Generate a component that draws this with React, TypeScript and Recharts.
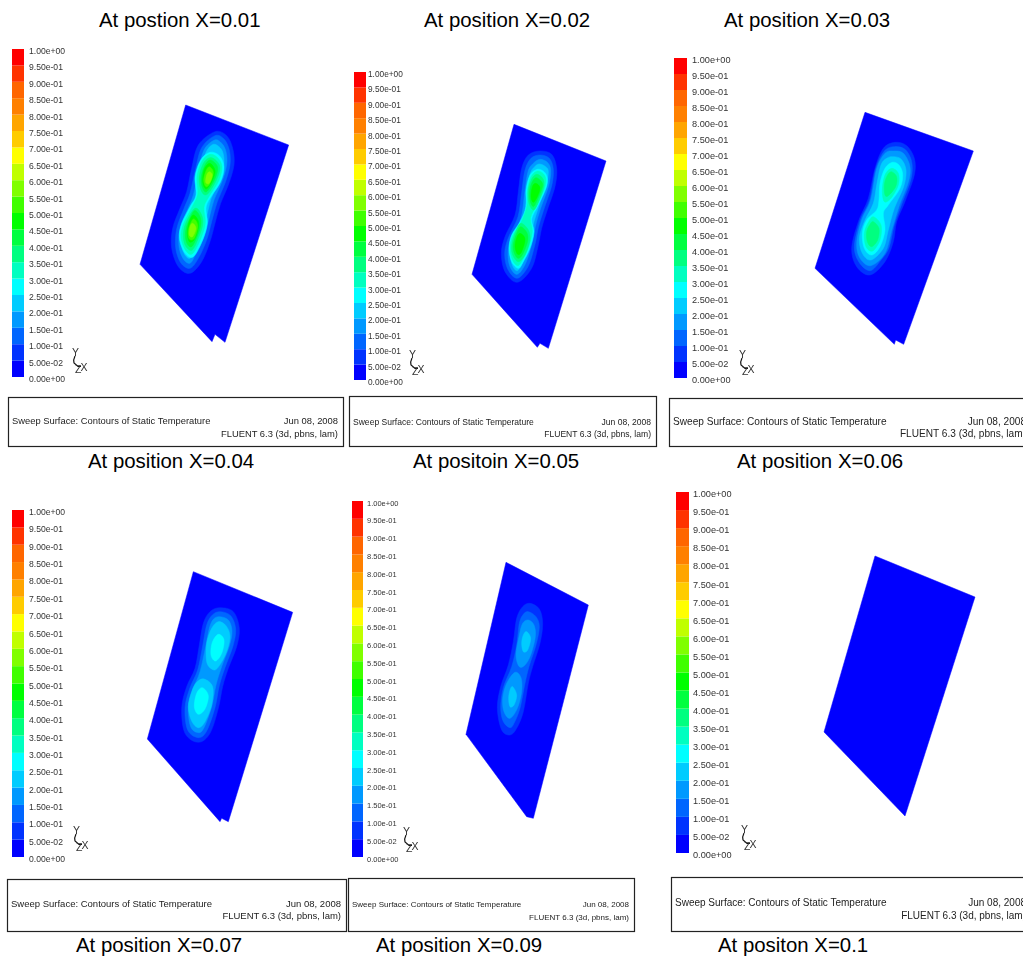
import * as React from 'react';
import { BarChart, Bar, ScatterChart, Scatter, XAxis, YAxis } from 'recharts';

type Pt = [number, number];
interface Ring { band: number; pts: Pt[] }

// legend, bottom band first
const bandColors = [
  '#0000ff', '#0033ff', '#0066ff', '#0099ff', '#00ccff', '#00ffff', '#00ffc0', '#00ff80', '#00ff40', '#00ff00',
  '#40ff00', '#80ff00', '#c0ff00', '#ffff00', '#ffcc00', '#ffa500', '#ff8000', '#ff6600', '#ff3300', '#ff0000',
];
const levelValues = [0, 0.05, 0.1, 0.15, 0.2, 0.25, 0.3, 0.35, 0.4, 0.45, 0.5, 0.55, 0.6, 0.65, 0.7, 0.75, 0.8, 0.85, 0.9, 0.95, 1];
const levelLabels = [
  '0.00e+00', '5.00e-02', '1.00e-01', '1.50e-01', '2.00e-01', '2.50e-01', '3.00e-01', '3.50e-01', '4.00e-01', '4.50e-01', '5.00e-01',
  '5.50e-01', '6.00e-01', '6.50e-01', '7.00e-01', '7.50e-01', '8.00e-01', '8.50e-01', '9.00e-01', '9.50e-01', '1.00e+00',
];

const outline1: Pt[] = [[167, 30], [476, 150], [285, 742], [255, 718], [246, 740], [30, 508]];
const rings1: Ring[] = [
  { band: 1, pts: [[255, 110], [290, 122], [308, 160], [312, 210], [295, 270], [272, 325], [255, 385], [240, 440], [215, 500], [180, 535], [145, 515], [125, 460], [128, 400], [150, 340], [170, 290], [185, 220], [205, 150]] },
  { band: 2, pts: [[255, 122], [282, 132], [298, 165], [300, 210], [285, 265], [262, 320], [245, 380], [230, 435], [205, 490], [180, 520], [152, 503], [137, 458], [140, 402], [160, 345], [180, 295], [196, 225], [215, 158]] },
  { band: 3, pts: [[254, 135], [275, 145], [288, 170], [290, 210], [275, 262], [252, 315], [236, 375], [220, 430], [197, 478], [180, 505], [160, 492], [147, 455], [150, 405], [170, 350], [190, 300], [205, 230], [222, 165]] },
  { band: 4, pts: [[250, 148], [270, 158], [280, 178], [281, 212], [266, 260], [243, 312], [228, 372], [212, 425], [192, 468], [180, 490], [165, 480], [155, 450], [158, 408], [178, 355], [198, 305], [212, 232], [228, 172]] },
  { band: 5, pts: [[240, 172], [268, 182], [282, 215], [272, 260], [240, 310], [228, 340], [232, 385], [218, 435], [190, 485], [165, 475], [148, 430], [155, 385], [180, 335], [198, 300], [195, 245], [212, 195]] },
  { band: 6, pts: [[240, 178], [263, 188], [276, 215], [266, 258], [235, 308], [222, 338], [226, 385], [212, 432], [188, 476], [168, 468], [153, 428], [160, 388], [184, 340], [203, 298], [201, 245], [216, 198]] },
  { band: 7, pts: [[240, 188], [260, 198], [270, 220], [258, 258], [232, 298], [215, 290], [207, 250], [220, 205]] },
  { band: 7, pts: [[195, 340], [215, 360], [218, 390], [205, 430], [187, 465], [168, 455], [160, 425], [167, 385]] },
  { band: 8, pts: [[240, 195], [258, 207], [263, 225], [252, 258], [230, 290], [218, 280], [213, 250], [224, 212]] },
  { band: 8, pts: [[193, 347], [210, 365], [212, 392], [200, 428], [185, 455], [172, 447], [166, 422], [172, 388]] },
  { band: 9, pts: [[238, 205], [252, 218], [255, 235], [243, 265], [228, 282], [218, 262], [222, 225]] },
  { band: 9, pts: [[190, 360], [205, 378], [204, 405], [192, 435], [178, 440], [172, 415], [177, 382]] },
  { band: 10, pts: [[238, 215], [250, 232], [240, 265], [228, 275], [221, 255], [228, 228]] },
  { band: 10, pts: [[190, 372], [203, 392], [193, 430], [178, 432], [175, 405]] },
  { band: 11, pts: [[238, 230], [247, 240], [238, 265], [227, 262], [230, 240]] },
  { band: 11, pts: [[188, 385], [198, 400], [188, 425], [178, 420], [180, 395]] },
];

const outline2: Pt[] = [[162, 28], [438, 138], [265, 700], [240, 685], [232, 697], [36, 478]];
const rings2: Ring[] = [
  { band: 1, pts: [[240, 108], [275, 118], [290, 160], [285, 215], [262, 285], [245, 340], [235, 390], [215, 460], [172, 502], [135, 470], [124, 415], [135, 365], [165, 300], [175, 230], [185, 160], [205, 120]] },
  { band: 2, pts: [[240, 120], [268, 130], [280, 163], [275, 213], [252, 282], [235, 338], [225, 388], [205, 453], [172, 490], [143, 462], [134, 415], [145, 368], [174, 305], [185, 232], [195, 165], [213, 130]] },
  { band: 3, pts: [[240, 133], [262, 142], [272, 165], [266, 212], [242, 280], [226, 335], [216, 385], [197, 445], [172, 478], [150, 455], [144, 413], [154, 372], [183, 310], [194, 235], [204, 170], [220, 145]] },
  { band: 4, pts: [[238, 147], [257, 155], [265, 170], [258, 212], [235, 278], [219, 332], [209, 385], [190, 438], [172, 467], [156, 448], [152, 410], [163, 375], [190, 315], [201, 240], [210, 178], [224, 155]] },
  { band: 5, pts: [[232, 163], [252, 170], [262, 190], [258, 220], [235, 270], [215, 312], [222, 350], [210, 400], [190, 440], [175, 460], [155, 440], [147, 400], [155, 360], [180, 320], [198, 275], [198, 225], [210, 180]] },
  { band: 6, pts: [[232, 168], [250, 176], [258, 195], [252, 225], [232, 268], [212, 308], [217, 350], [205, 398], [187, 436], [173, 452], [157, 434], [150, 398], [158, 362], [183, 322], [201, 272], [202, 228], [213, 185]] },
  { band: 7, pts: [[230, 178], [248, 190], [252, 212], [240, 250], [222, 285], [207, 265], [205, 225], [215, 192]] },
  { band: 7, pts: [[183, 325], [205, 345], [210, 375], [195, 420], [175, 440], [158, 420], [155, 390], [167, 350]] },
  { band: 8, pts: [[229, 188], [245, 200], [247, 217], [232, 255], [220, 275], [210, 255], [210, 222], [218, 198]] },
  { band: 8, pts: [[182, 335], [200, 352], [203, 378], [188, 418], [174, 430], [162, 412], [160, 388], [170, 355]] },
  { band: 9, pts: [[227, 205], [240, 218], [232, 245], [220, 262], [213, 245], [217, 215]] },
  { band: 9, pts: [[180, 355], [195, 372], [185, 410], [173, 418], [165, 395], [170, 368]] },
];

const outline3: Pt[] = [[180, 22], [505, 138], [296, 718], [272, 705], [268, 718], [30, 490]];
const rings3: Ring[] = [
  { band: 1, pts: [[270, 112], [305, 122], [328, 160], [328, 210], [300, 290], [275, 350], [265, 410], [240, 470], [195, 510], [155, 485], [140, 430], [160, 350], [190, 280], [210, 190], [235, 130]] },
  { band: 2, pts: [[268, 125], [300, 133], [320, 170], [318, 222], [290, 298], [268, 360], [252, 428], [228, 465], [196, 497], [163, 473], [148, 425], [166, 345], [194, 285], [212, 192], [238, 138]] },
  { band: 3, pts: [[266, 138], [295, 145], [315, 185], [310, 232], [282, 305], [262, 370], [240, 445], [197, 482], [165, 460], [155, 415], [170, 345], [197, 285], [215, 192], [240, 145]] },
  { band: 4, pts: [[263, 155], [288, 162], [303, 195], [296, 245], [268, 310], [250, 375], [235, 430], [198, 465], [172, 445], [163, 400], [178, 350], [205, 295], [215, 240], [228, 180], [245, 160]] },
  { band: 5, pts: [[262, 172], [282, 180], [293, 208], [285, 250], [250, 300], [235, 325], [240, 375], [225, 425], [200, 450], [178, 430], [172, 385], [185, 345], [215, 315], [222, 285], [225, 235], [240, 190]] },
  { band: 6, pts: [[260, 190], [280, 205], [280, 240], [258, 280], [238, 290], [232, 255], [240, 210]] },
  { band: 6, pts: [[205, 335], [228, 360], [225, 405], [203, 438], [183, 425], [178, 385], [190, 352]] },
  { band: 7, pts: [[258, 200], [275, 215], [272, 245], [250, 272], [240, 270], [238, 240], [245, 215]] },
  { band: 7, pts: [[205, 350], [222, 370], [218, 405], [200, 425], [187, 410], [185, 380], [195, 358]] },
];

const outline4: Pt[] = [[160, 20], [458, 142], [265, 770], [245, 760], [240, 770], [22, 522]];
const rings4: Ring[] = [
  { band: 1, pts: [[240, 128], [280, 140], [298, 190], [290, 245], [265, 310], [248, 365], [235, 430], [210, 505], [175, 532], [135, 505], [125, 430], [140, 365], [165, 310], [178, 240], [190, 175], [210, 140]] },
  { band: 2, pts: [[240, 140], [272, 152], [287, 192], [279, 243], [255, 308], [238, 362], [225, 428], [200, 498], [175, 518], [143, 495], [135, 428], [150, 368], [173, 315], [188, 243], [200, 180], [217, 150]] },
  { band: 3, pts: [[238, 155], [265, 165], [276, 198], [268, 243], [245, 305], [228, 360], [215, 425], [192, 488], [175, 503], [152, 485], [145, 425], [160, 370], [180, 320], [197, 245], [208, 190], [220, 163]] },
  { band: 4, pts: [[235, 170], [258, 182], [270, 215], [258, 265], [232, 310], [215, 312], [200, 290], [200, 235], [215, 190]] },
  { band: 4, pts: [[192, 342], [218, 365], [215, 420], [195, 470], [175, 488], [155, 468], [145, 425], [155, 380], [170, 352]] },
  { band: 5, pts: [[235, 208], [252, 225], [245, 265], [227, 288], [213, 270], [217, 232]] },
  { band: 5, pts: [[187, 368], [205, 392], [195, 432], [175, 448], [163, 425], [170, 385]] },
];

const outline5: Pt[] = [[138, 22], [385, 150], [220, 790], [200, 785], [18, 538]];
const rings5: Ring[] = [
  { band: 1, pts: [[210, 145], [238, 162], [248, 205], [240, 265], [218, 335], [205, 385], [190, 470], [170, 520], [150, 540], [125, 525], [112, 460], [122, 395], [145, 330], [160, 260], [170, 190], [188, 155]] },
  { band: 2, pts: [[205, 170], [228, 185], [238, 215], [228, 270], [207, 335], [195, 385], [180, 460], [162, 505], [150, 518], [130, 500], [122, 458], [130, 398], [155, 335], [170, 270], [178, 205], [190, 178]] },
  { band: 3, pts: [[205, 195], [222, 210], [226, 245], [212, 300], [195, 330], [178, 335], [168, 300], [178, 240], [188, 205]] },
  { band: 3, pts: [[165, 352], [183, 368], [185, 410], [172, 460], [150, 490], [132, 470], [128, 430], [140, 385]] },
  { band: 4, pts: [[200, 230], [212, 250], [203, 285], [190, 290], [185, 265], [190, 240]] },
  { band: 4, pts: [[158, 395], [170, 420], [162, 450], [150, 455], [146, 430], [150, 405]] },
];

const outline6: Pt[] = [[195, 33], [495, 156], [285, 813], [42, 561]];

const titles: [string, number, number][] = [
  ['At postion X=0.01', 99, 27], ['At position X=0.02', 424, 27], ['At position X=0.03', 724, 27],
  ['At position X=0.04', 88, 468], ['At positoin X=0.05', 413, 468], ['At position X=0.06', 737, 468],
  ['At position X=0.07', 76, 952], ['At position X=0.09', 376, 952], ['At positon X=0.1', 718, 952],
];

const panels = [
  { outline: outline1, rings: rings1, crop: [130, 95, 170, 255], bar: [12, 49, 12, 328], tickSize: 8.6, gap: 5, triad: [72, 356], box: [8, 397, 335, 49], text: 9.4, base: [424, 437] },
  { outline: outline2, rings: rings2, crop: [460, 115, 160, 240], bar: [354, 72, 12, 308], tickSize: 8.3, gap: 2, triad: [409, 358], box: [349, 396, 307, 50], text: 8.55, base: [425, 437] },
  { outline: outline3, rings: rings3, crop: [805, 105, 175, 245], bar: [674, 58, 13, 320], tickSize: 9.2, gap: 5, triad: [739, 358], box: [669, 398, 362, 48], text: 10.1, base: [425, 437] },
  { outline: outline4, rings: rings4, crop: [140, 565, 160, 260], bar: [12, 510, 12, 347], tickSize: 8.6, gap: 5, triad: [73, 834], box: [7, 879, 339, 52], text: 9.5, base: [907, 919] },
  { outline: outline5, rings: rings5, crop: [460, 555, 140, 265], bar: [352, 501, 11, 356], tickSize: 7.5, gap: 4, triad: [403, 835], box: [348, 878, 286, 53], text: 8, base: [907, 920] },
  { outline: outline6, rings: [] as Ring[], crop: [810, 545, 175, 280], bar: [676, 492, 13, 361], tickSize: 9.2, gap: 4, triad: [741, 833], box: [671, 877, 360, 54], text: 10, base: [906, 919] },
];

const FONT = '"Liberation Sans", Arial, sans-serif';
const toXY = (pts: Pt[]) => pts.map(([x, y]) => ({ x, y }));
const noDot = () => null;

// closed curve through the read-off points (the stock basisClosed pulls them inward)
const throughPoints = (ctx: any) => {
  let pts: number[][] = [];
  return {
    areaStart() {},
    areaEnd() {},
    lineStart() { pts = []; },
    point(x: number, y: number) { pts.push([+x, +y]); },
    lineEnd() {
      const n = pts.length;
      ctx.moveTo(pts[0][0], pts[0][1]);
      for (let i = 0; i < n; i++) {
        const a = pts[(i - 1 + n) % n], b = pts[i], c = pts[(i + 1) % n], d = pts[(i + 2) % n];
        ctx.bezierCurveTo(b[0] + (c[0] - a[0]) / 6, b[1] + (c[1] - a[1]) / 6, c[0] - (d[0] - b[0]) / 6, c[1] - (d[1] - b[1]) / 6, c[0], c[1]);
      }
      ctx.closePath();
    },
  };
};

function Surface({ outline, rings, crop }: { outline: Pt[]; rings: Ring[]; crop: number[] }) {
  const [left, top, w, h] = crop;
  return (
    <div style={{ position: 'absolute', left, top, filter: 'blur(0.3px)' }}>
      <ScatterChart width={w} height={h} margin={{ top: 0, right: 0, bottom: 0, left: 0 }}>
        <XAxis type="number" dataKey="x" domain={[0, w * 3]} hide />
        <YAxis type="number" dataKey="y" domain={[0, h * 3]} reversed hide />
        <Scatter
          data={toXY(outline)}
          fill="#0000ff"
          shape={noDot}
          line={{ fill: '#0000ff', stroke: '#0000ff', strokeWidth: 0.5 }}
          lineJointType="linearClosed"
          isAnimationActive={false}
        />
        {rings.map((r, i) => (
          <Scatter
            key={i}
            data={toXY(r.pts)}
            fill={bandColors[r.band]}
            shape={noDot}
            line={{ fill: bandColors[r.band], stroke: bandColors[r.band], strokeWidth: 0.5 }}
            lineJointType={throughPoints as any}
            isAnimationActive={false}
          />
        ))}
      </ScatterChart>
    </div>
  );
}

const legendRow = [Object.fromEntries(bandColors.map((_, i) => [`b${i}`, levelValues[i + 1] - levelValues[i]]))];

function ColorBar({ bar, tickSize, gap }: { bar: number[]; tickSize: number; gap: number }) {
  const [left, top, w, h] = bar;
  const pad = 8;
  return (
    <div style={{ position: 'absolute', left, top: top - pad, filter: 'blur(0.35px)' }}>
      <BarChart
        width={w + 60}
        height={h + pad * 2}
        data={legendRow}
        barCategoryGap={0}
        margin={{ top: pad, right: 0, bottom: pad, left: 0 }}
      >
        <XAxis hide />
        <YAxis
          orientation="right"
          type="number"
          domain={[0, 1]}
          ticks={levelValues}
          interval={0}
          width={60}
          axisLine={false}
          tickLine={false}
          tickSize={0}
          tickMargin={gap}
          tickFormatter={(v: number) => levelLabels[levelValues.indexOf(v)]}
          tick={{ fontSize: tickSize, fill: '#333', fontFamily: FONT, dy: 2, textAnchor: 'start' }}
        />
        {bandColors.map((c, i) => (
          <Bar key={c} dataKey={`b${i}`} stackId="legend" fill={c} isAnimationActive={false} />
        ))}
      </BarChart>
    </div>
  );
}

export default function App() {
  return (
    <div style={{ position: 'absolute', left: 0, top: 0, width: 1023, height: 958, overflow: 'hidden', background: '#fff' }}>
      {panels.map((p, i) => (
        <React.Fragment key={i}>
          <Surface outline={p.outline} rings={p.rings} crop={p.crop} />
          <ColorBar bar={p.bar} tickSize={p.tickSize} gap={p.gap} />
        </React.Fragment>
      ))}
      <svg width={1023} height={958} style={{ position: 'absolute', left: 0, top: 0, fontFamily: FONT }}>
        {titles.map(([t, x, y]) => (
          <text key={t} x={x} y={y} fontSize={20.4} fill="#000">{t}</text>
        ))}
        {panels.map((p, i) => {
          const [bx, by, bw, bh] = p.box;
          const [tx, ty] = p.triad;
          return (
            <g key={i}>
              <rect x={bx + 0.5} y={by + 0.5} width={bw} height={bh} fill="none" stroke="#222" strokeWidth={1.2} />
              <g style={{ filter: 'blur(0.35px)' }}>
                <text x={bx + 4} y={p.base[0]} fontSize={p.text} fill="#222">Sweep Surface: Contours of Static Temperature</text>
                <text x={bx + bw - 5} y={p.base[0]} fontSize={p.text} fill="#222" textAnchor="end">Jun 08, 2008</text>
                <text x={bx + bw - 5} y={p.base[1]} fontSize={p.text} fill="#222" textAnchor="end">FLUENT 6.3 (3d, pbns, lam)</text>
              </g>
              <g transform={`translate(${tx},${ty})`} fill="#333" fontSize={10.5} style={{ filter: 'blur(0.3px)' }}>
                <text x={0} y={0}>Y</text>
                <path d="M3 0 q-2 4 -1 7 l4 3.5 l3 0" fill="none" stroke="#111" strokeWidth={1.2} />
                <text x={3} y={17}>Z</text>
                <text x={8.5} y={15}>X</text>
              </g>
            </g>
          );
        })}
      </svg>
    </div>
  );
}
